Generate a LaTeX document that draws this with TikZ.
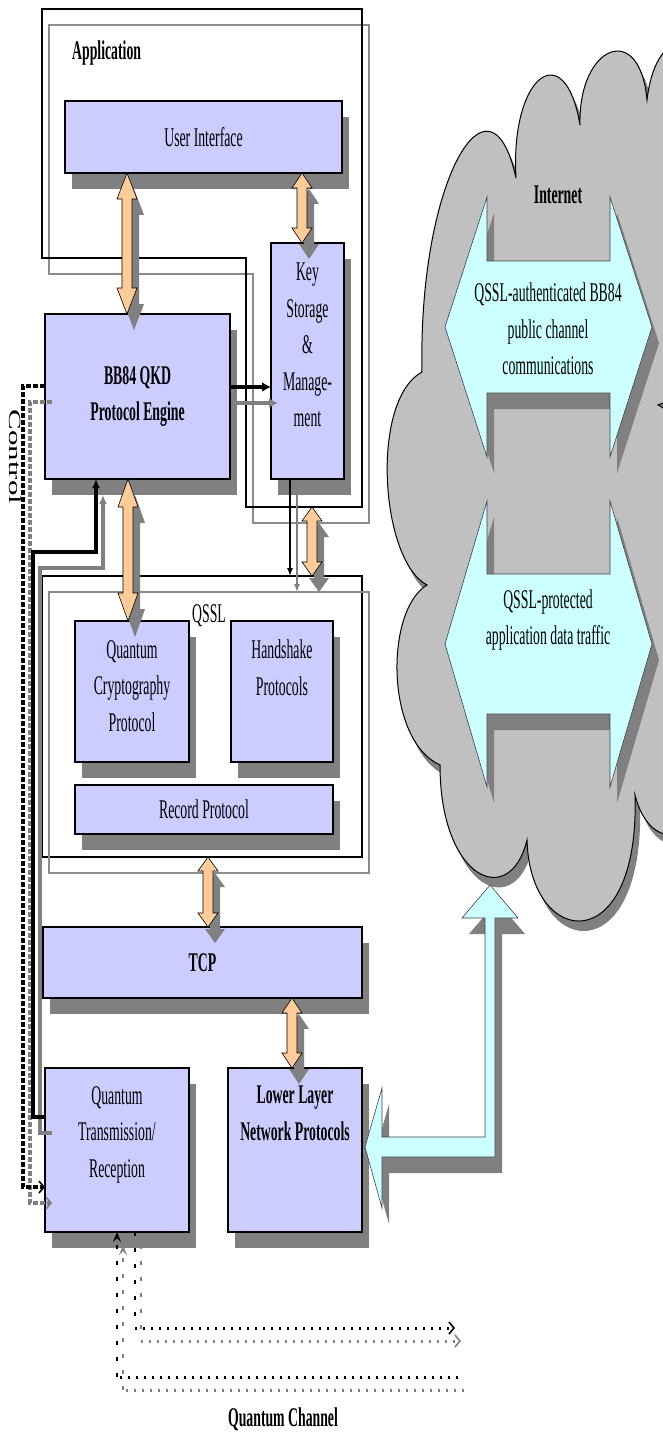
\documentclass[tikz,border=0pt]{standalone}
\usepackage{fontspec}
\usepackage{graphicx}
\setmainfont{Liberation Serif}[FakeStretch=0.51]
\newfontfamily\ctrlfont{Liberation Serif}
\usetikzlibrary{calc,shadows,arrows.meta}
\definecolor{boxfill}{RGB}{204,204,255}
\definecolor{shadowgray}{RGB}{128,128,128}
\definecolor{peach}{RGB}{255,204,153}
\definecolor{cyanfill}{RGB}{204,255,255}
\definecolor{cloudgray}{RGB}{192,192,192}
\definecolor{frameshadow}{RGB}{140,140,140}

\tikzset{
  txt/.style={font=\fontsize{27}{36.5}\selectfont, inner sep=0pt, align=center},
  boldtxt/.style={font=\fontsize{27}{36.5}\selectfont\bfseries, inner sep=0pt, align=center},
  box/.style={draw=black, line width=1.3pt, fill=boxfill, inner sep=0pt, outer sep=0pt,
    anchor=north west, txt,
    drop shadow={shadow xshift=7pt, shadow yshift=-16pt, fill=shadowgray, opacity=1}},
  framebox/.style={draw=black, line width=1.2pt, inner sep=0pt, outer sep=0pt, anchor=north west},
  shadowcopy/.style={transform canvas={xshift=7pt, yshift=-16pt}},
  qshadowcopy/.style={transform canvas={xshift=6pt, yshift=-13pt}},
  cyanarrow/.style={fill=cyanfill, draw=black!75, line width=0.6pt},
  ctrlline/.style={line width=3.2pt, dash pattern=on 5pt off 2pt},
  dotH/.style={line width=3pt, dash pattern=on 2.2pt off 5.8pt},
  dotV/.style={line width=2.6pt, dash pattern=on 4pt off 12pt},
}

\newcommand\orpath[3]{(#1) -- ($(#1)+(10,#3)$) -- ($(#1)+(5,#3)$) -- ($(#2)+(5,-#3)$) -- ($(#2)+(10,-#3)$) -- (#2) -- ($(#2)+(-10,-#3)$) -- ($(#2)+(-5,-#3)$) -- ($(#1)+(-5,#3)$) -- ($(#1)+(-10,#3)$) -- cycle}
\newcommand\orarrow[3]{%
  \fill[shadowgray, shadowcopy] \orpath{#1}{#2}{#3};
  \filldraw[fill=peach, draw=black, line width=0.6pt] \orpath{#1}{#2}{#3};
}
\newcommand\cyanpath[5]{(#1) -- ($(#1)+(#3,-#4)$) -- ($(#1)+(#3,-#5)$) -- ($(#2)+(-#3,-#5)$) -- ($(#2)+(-#3,-#4)$) -- (#2) -- ($(#2)+(-#3,#4)$) -- ($(#2)+(-#3,#5)$) -- ($(#1)+(#3,#5)$) -- ($(#1)+(#3,#4)$) -- cycle}
\newcommand\cloudpath{(422,372) .. controls (418,180) and (490,60) .. (516,178) .. controls (510,75) and (565,35) .. (580,125) .. controls (578,45) and (640,20) .. (647,100) .. controls (655,30) and (700,20) .. (720,90) -- (720,380) .. controls (700,390) and (675,398) .. (658,405) .. controls (690,420) and (720,500) .. (720,760) .. controls (705,850) and (650,855) .. (635,795) .. controls (640,960) and (530,950) .. (527,840) .. controls (510,910) and (440,880) .. (440,765) .. controls (385,740) and (385,610) .. (427,585) .. controls (380,560) and (370,400) .. (422,372) -- cycle}

\begin{document}
\begin{tikzpicture}[x=1pt, y=-1pt]
\useasboundingbox (0,0) rectangle (663,1439);

% ---- cloud (Internet)
\begin{scope}
  \clip (0,0) rectangle (663,1439);
  \fill[shadowgray, transform canvas={xshift=5pt, yshift=-10pt}] \cloudpath;
  \filldraw[fill=cloudgray, draw=black, line width=1pt] \cloudpath;
\end{scope}

\coordinate (c1l) at (445,327);
\coordinate (c1r) at (652,327);
\coordinate (c2l) at (445,644);
\coordinate (c2r) at (652,644);
\fill[shadowgray, shadowcopy] \cyanpath{c1l}{c1r}{42}{130}{66};
\filldraw[cyanarrow] \cyanpath{c1l}{c1r}{42}{130}{66};
\fill[shadowgray, shadowcopy] \cyanpath{c2l}{c2r}{42}{143}{70};
\filldraw[cyanarrow] \cyanpath{c2l}{c2r}{42}{143}{70};

\node[boldtxt] (inet) at (558,195) {Internet};
\node[txt] (pubch) at (548,329) {QSSL-authenticated BB84\\public channel\\communications};
\node[txt] (datatr) at (548,620) {QSSL-protected\\application data traffic};

% ---- frames
\coordinate (apptl) at (42,9);
\coordinate (appbr) at (362,507);
\coordinate (appin) at (246,258);
\draw[frameshadow, line width=1.2pt, shadowcopy] (apptl) -| (appbr) -| (appin) -- (appin -| apptl) -- cycle;
\draw[black, line width=1.2pt] (apptl) -| (appbr) -| (appin) -- (appin -| apptl) -- cycle;
\node[boldtxt, anchor=west] (applbl) at (72,53) {Application};

\node[framebox, minimum width=320pt, minimum height=281pt] (qssl) at (42,576) {};
\draw[frameshadow, line width=1.2pt, shadowcopy] (qssl.north west) rectangle (qssl.south east);
\node[txt] (qssllbl) at (209,616) {QSSL};

% ---- boxes
\node[box, minimum width=277pt, minimum height=72pt] (ui) at (65,101) {User Interface};
\node[box, boldtxt, minimum width=185pt, minimum height=165pt] (bb) at (45,314) {BB84 QKD\\Protocol Engine};
\node[box, minimum width=73pt, minimum height=236pt] (ks) at (271,243) {};
\node[box, minimum width=114pt, minimum height=141pt] (qc) at (75,621) {};
\node[box, minimum width=102pt, minimum height=141pt] (hs) at (231,621) {};
\node[box, minimum width=258pt, minimum height=49pt] (rp) at (75,785) {Record Protocol};
\node[box, boldtxt, minimum width=319pt, minimum height=71pt] (tcp) at (43,927) {TCP};
\node[box, minimum width=144pt, minimum height=164pt] (qt) at (45,1068) {};
\node[box, minimum width=134pt, minimum height=164pt] (ll) at (228,1068) {};

\node[txt, anchor=north] (kst) at ($(ks.north)+(0,20)$) {Key\\Storage\\\&\\Manage-\\ment};
\node[txt, anchor=north] (qct) at ($(qc.north)+(0,19)$) {Quantum\\Cryptography\\Protocol};
\node[txt, anchor=north] (hst) at ($(hs.north)+(0,19)$) {Handshake\\Protocols};
\node[txt, anchor=north] (qtt) at ($(qt.north)+(0,18)$) {Quantum\\Transmission/\\Reception};
\node[boldtxt, anchor=north] (llt) at ($(ll.north)+(0,18)$) {Lower Layer\\Network Protocols};

% ---- orange double arrows
\coordinate (o1t) at ($(ui.south west)+(62,0)$);
\coordinate (o1b) at ($(bb.north west)+(82,0)$);
\coordinate (o2t) at ($(ui.south west)+(237,0)$);
\coordinate (o2b) at ($(ks.north west)+(31,0)$);
\coordinate (o3t) at ($(bb.south west)+(83,0)$);
\coordinate (o3b) at ($(qc.north west)+(53,0)$);
\coordinate (o4t) at ($(appbr)+(-50,0)$);
\coordinate (o4b) at ($(qssl.north west)+(270,0)$);
\coordinate (o5t) at ($(qssl.south west)+(166,0)$);
\coordinate (o5b) at ($(tcp.north west)+(165,0)$);
\coordinate (o6t) at ($(tcp.south west)+(249,0)$);
\coordinate (o6b) at ($(ll.north west)+(64,0)$);
\orarrow{o1t}{o1b}{26}
\orarrow{o2t}{o2b}{15}
\orarrow{o3t}{o3b}{28}
\orarrow{o4t}{o4b}{14}
\orarrow{o5t}{o5b}{14}
\orarrow{o6t}{o6b}{15}

% ---- cyan elbow arrow to the Internet
\coordinate (el) at ($(ll.east)+(3,-3)$);
\coordinate (eu) at (490,885);
\fill[shadowgray, shadowcopy] (el) -- ($(el)+(17,-59)$) -- ($(el)+(17,-10)$) -| ($(eu)+(-5,33)$) -- ($(eu)+(-28,33)$) -- (eu) -- ($(eu)+(28,33)$) -- ($(eu)+(5,33)$) |- ($(el)+(17,10)$) -- ($(el)+(17,61)$) -- cycle;
\filldraw[cyanarrow] (el) -- ($(el)+(17,-59)$) -- ($(el)+(17,-10)$) -| ($(eu)+(-5,33)$) -- ($(eu)+(-28,33)$) -- (eu) -- ($(eu)+(28,33)$) -- ($(eu)+(5,33)$) |- ($(el)+(17,10)$) -- ($(el)+(17,61)$) -- cycle;

% ---- key storage to QSSL
\coordinate (k1) at ($(ks.south west)+(19,0)$);
\coordinate (k2) at ($(qssl.north west)+(248,0)$);
\draw[shadowgray, line width=1.3pt, -{Latex[length=8pt,width=6pt]}, shadowcopy] (k1) -- (k2);
\draw[black, line width=1.3pt, -{Latex[length=8pt,width=6pt]}] (k1) -- (k2);

% ---- BB84 engine to key storage
\coordinate (b1) at ($(bb.north east)+(0,73)$);
\coordinate (b2) at ($(ks.north west)+(0,144)$);
\draw[shadowgray, line width=3.5pt, -{Latex[length=9pt,width=10pt]}, shadowcopy] (b1) -- (b2);
\draw[black, line width=3.5pt, -{Latex[length=9pt,width=10pt]}] (b1) -- (b2);

% ---- control line
\coordinate (c1) at ($(bb.north west)+(0,72)$);
\coordinate (c2) at ($(qt.north west)+(0,119)$);
\draw[shadowgray, ctrlline, -{Straight Barb[length=5pt,width=12pt,line width=1.6pt]}, shadowcopy] (c1) -- ++(-22,0) |- (c2);
\draw[black, ctrlline, -{Straight Barb[length=5pt,width=12pt,line width=1.6pt]}] (c1) -- ++(-22,0) |- (c2);
\node[rotate=-90, inner sep=0pt] (ctl) at (15,457) {\scalebox{1}[0.55]{\ctrlfont\fontsize{31}{31}\selectfont Control}};

% ---- thick data line from quantum transmission to BB84 engine
\coordinate (d1) at ($(qt.north west)+(0,49)$);
\coordinate (d2) at ($(bb.south west)+(51,73)$);
\coordinate (d3) at ($(bb.south west)+(51,0)$);
\draw[shadowgray, line width=3.5pt, -{Latex[length=9pt,width=8pt]}, shadowcopy] (d1) -- ++(-12,0) |- (d2) -- (d3);
\draw[black, line width=4pt, -{Latex[length=9pt,width=8pt]}] (d1) -- ++(-12,0) |- (d2) -- (d3);

% ---- quantum channel
\coordinate (qin) at (458,1377);
\coordinate (qinc) at ($(qt.south west)+(72,145)$);
\coordinate (qinend) at ($(qt.south west)+(72,0)$);
\coordinate (qos) at ($(qt.south west)+(90,0)$);
\coordinate (qoc) at ($(qt.south west)+(90,96)$);
\coordinate (qout) at (455,1328);
\draw[shadowgray, dotH, qshadowcopy] (qin) -- (qinc);
\draw[shadowgray, dotV, -{Stealth[length=10pt,width=8pt,inset=4pt]}, qshadowcopy] (qinc) -- (qinend);
\draw[shadowgray, dotV, qshadowcopy] (qos) -- (qoc);
\draw[shadowgray, dotH, -{Straight Barb[length=5pt,width=12pt,line width=1.6pt]}, qshadowcopy] (qoc) -- (qout);
\draw[black, dotH] (qin) -- (qinc);
\draw[black, dotV, -{Stealth[length=10pt,width=8pt,inset=4pt]}] (qinc) -- (qinend);
\draw[black, dotV] (qos) -- (qoc);
\draw[black, dotH, -{Straight Barb[length=5pt,width=12pt,line width=1.6pt]}] (qoc) -- (qout);
\node[boldtxt] (qch) at (283,1419) {Quantum Channel};

\end{tikzpicture}
\end{document}
